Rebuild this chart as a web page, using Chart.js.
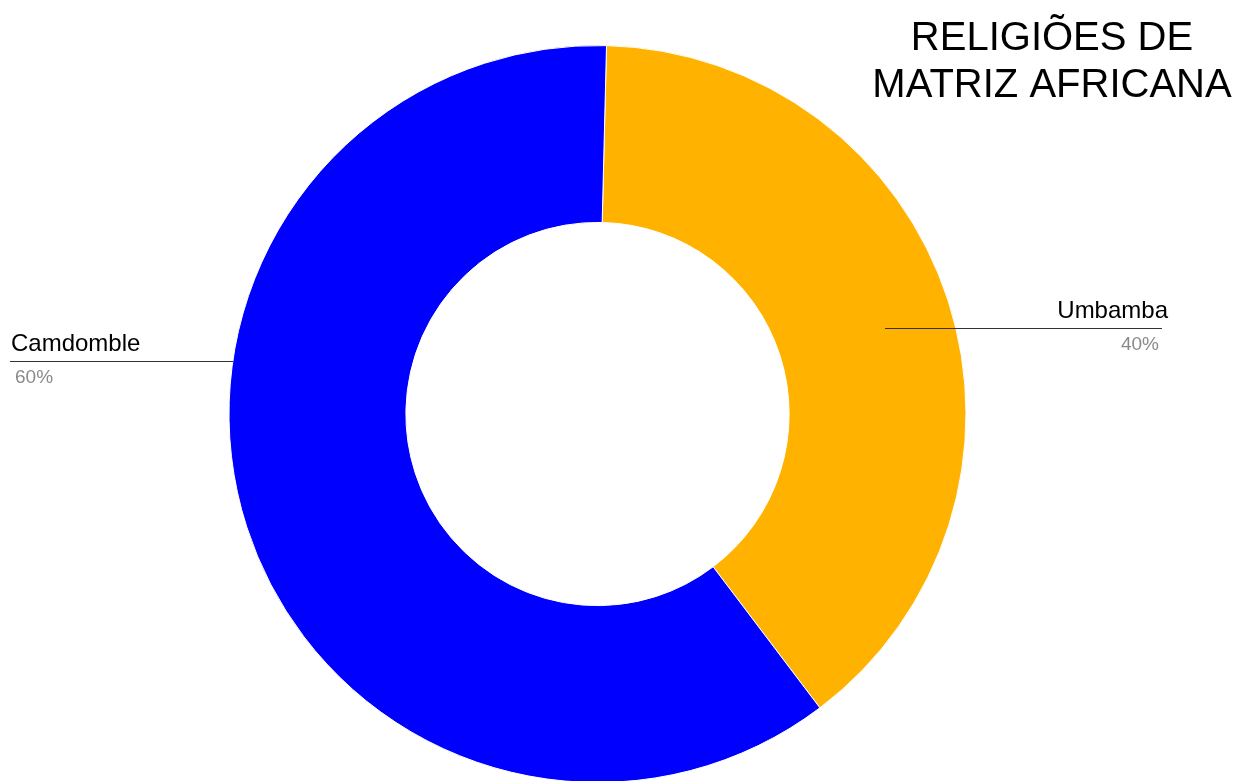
<!DOCTYPE html>
<html>
<head>
<meta charset="utf-8">
<script src="https://cdn.jsdelivr.net/npm/chart.js@4/dist/chart.umd.min.js"></script>
<style>
	html, body { margin: 0; padding: 0; background: #fff; overflow: hidden; }
	#wrap { position: relative; width: 1239px; height: 783px; }
</style>
</head>
<body>
<div id="wrap"><canvas id="chart"></canvas></div>
<script>
const titleLines = ['RELIGIÕES DE', 'MATRIZ AFRICANA'];
const labels = ['Umbamba', 'Camdomble'];
const values = [39.3, 60.7];
const percentLabels = ['40%', '60%'];
const colors = ['#ffb300', '#0000ff'];

document.addEventListener("DOMContentLoaded", function (event) {
	const ctx = document.querySelector("#chart").getContext("2d");

	// title + leader-line labels like the google sheets donut
	const annotations = {
		id: 'annotations',
		afterDraw(chart) {
			const c = chart.ctx;
			c.save();
			c.fillStyle = '#000';
			c.textAlign = 'center';
			c.textBaseline = 'alphabetic';
			c.font = '40px "Liberation Sans", Arial, sans-serif';
			c.fillText(titleLines[0], 1052, 50);
			c.fillText(titleLines[1], 1052, 97);

			const arc = chart.getDatasetMeta(0).data[1];
			const leftEdge = arc.x - arc.outerRadius;

			c.strokeStyle = '#333';
			c.lineWidth = 1;
			c.beginPath();
			c.moveTo(885, 328.5);
			c.lineTo(1162, 328.5);
			c.moveTo(10, 361.5);
			c.lineTo(leftEdge + 4, 361.5);
			c.stroke();

			// Umbamba (right side)
			c.textAlign = 'right';
			c.fillStyle = '#000';
			c.font = '24px "Liberation Sans", Arial, sans-serif';
			c.fillText(labels[0], 1168, 318);
			c.fillStyle = '#8a8a8a';
			c.font = '19px "Liberation Sans", Arial, sans-serif';
			c.fillText(percentLabels[0], 1159, 350);

			// Camdomble (left side)
			c.textAlign = 'left';
			c.fillStyle = '#000';
			c.font = '24px "Liberation Sans", Arial, sans-serif';
			c.fillText(labels[1], 11, 351);
			c.fillStyle = '#8a8a8a';
			c.font = '19px "Liberation Sans", Arial, sans-serif';
			c.fillText(percentLabels[1], 15, 383);
			c.restore();
		}
	};

	const data = {
		labels: labels,
		datasets: [{
			data: values,
			backgroundColor: colors,
			borderColor: '#ffffff',
			borderWidth: 1
		}]
	};

	const config = {
		type: 'doughnut',
		data: data,
		options: {
			responsive: true,
			maintainAspectRatio: false,
			animation: false,
			cutout: '52%',
			rotation: 1.4,
			layout: { padding: { top: 45, left: 0, right: 44, bottom: 0 } },
			plugins: {
				legend: { display: false },
				tooltip: { enabled: false }
			}
		},
		plugins: [annotations]
	};

	const myChart = new Chart(ctx, config);
});
</script>
</body>
</html>
